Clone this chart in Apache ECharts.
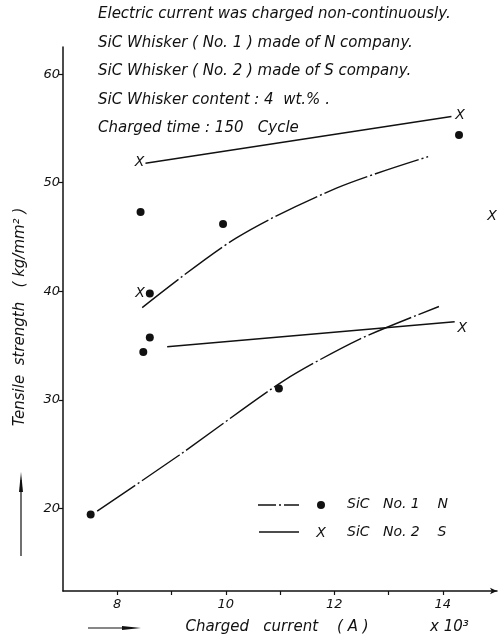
<!DOCTYPE html>
<html><head><meta charset="utf-8">
<script src="https://cdn.jsdelivr.net/npm/echarts@6/dist/echarts.min.js"></script>
<style>html,body{margin:0;padding:0;background:#fff}#c{width:498px;height:636px}</style>
</head><body><div id="c"></div>
<script>
// ---- data ----
const xTickLabels = [8, 10, 12, 14];
const xTickMarks = [8, 9, 10, 11, 12, 13, 14];
const yTickLabels = [20, 30, 40, 50, 60];

// SiC No.1 (N) measured points (dots)
const no1Points = [[7.51, 19.45], [8.43, 47.3], [8.60, 39.8], [8.60, 35.75], [8.48, 34.4], [9.95, 46.2], [10.98, 31.05], [14.30, 54.4]];
// SiC No.2 (S) measured points (X)
const no2Points = [[8.41, 51.9], [8.42, 39.85], [14.32, 56.2], [14.36, 36.6], [14.91, 46.9]];

// fitted curves (dash-dot) for No.1
const no1CurveUpper = [[8.46, 38.5], [10.19, 44.9], [12.04, 49.5], [13.73, 52.4]];
const no1CurveLower = [[7.63, 19.75], [9.14, 24.9], [11.08, 31.8], [12.47, 35.6], [13.93, 38.6]];
// fitted lines (solid) for No.2
const no2LineUpper = [[8.52, 51.8], [14.16, 56.1]];
const no2LineLower = [[8.92, 34.9], [14.22, 37.2]];

const notes = [
  'Electric current was charged non-continuously.',
  'SiC Whisker ( No. 1 ) made of N company.',
  'SiC Whisker ( No. 2 ) made of S company.',
  'SiC Whisker content : 4  wt.% .',
  'Charged time : 150   Cycle'
];
const legendNames = ['SiC   No. 1    N', 'SiC   No. 2    S'];
const xAxisName = 'Charged   current    ( A )';
const xAxisUnit = 'x 10³';
const yAxisName = 'Tensile  strength   ( kg/mm² )';

// ---- chart ----
const FONT = 'DejaVu Sans';
const INK = '#111';
const dashDot = [46, 3, 2, 3];
const chart = echarts.init(document.getElementById('c'));

const noteGraphics = notes.map((t, i) => ({
  type: 'text', left: 98, top: 7 + i * 28.5,
  style: { text: t, font: 'italic 15px "' + FONT + '"', fill: INK }
}));

const option = {
  animation: false,
  backgroundColor: '#fff',
  grid: { left: 63, right: 1, top: 47, bottom: 45 },
  xAxis: {
    type: 'value', min: 7, max: 15,
    axisLine: { lineStyle: { color: INK, width: 1.5 }, symbol: ['none', 'arrow'], symbolSize: [5, 7] },
    axisTick: { show: true, length: 4, customValues: xTickMarks, lineStyle: { color: INK, width: 1.2 } },
    axisLabel: { customValues: xTickLabels, fontStyle: 'italic', fontFamily: FONT, fontSize: 13, color: INK, margin: 7 },
    splitLine: { show: false }
  },
  yAxis: {
    type: 'value', min: 12.4, max: 62.5,
    axisLine: { show: true, lineStyle: { color: INK, width: 1.5 } },
    axisTick: { show: true, length: 4, customValues: yTickLabels, lineStyle: { color: INK, width: 1.2 } },
    axisLabel: { customValues: yTickLabels, fontStyle: 'italic', fontFamily: FONT, fontSize: 13, color: INK, margin: 3 },
    splitLine: { show: false }
  },
  graphic: noteGraphics.concat([
    // legend
    { type: 'line', shape: { x1: 258, y1: 505, x2: 299, y2: 505 }, style: { stroke: INK, lineWidth: 1.3, lineDash: [18, 3, 2, 3] } },
    { type: 'circle', shape: { cx: 321, cy: 505, r: 4 }, style: { fill: INK } },
    { type: 'text', left: 347, top: 497, style: { text: legendNames[0], font: 'italic 14px "' + FONT + '"', fill: INK } },
    { type: 'line', shape: { x1: 259, y1: 532, x2: 299, y2: 532 }, style: { stroke: INK, lineWidth: 1.3 } },
    { type: 'text', x: 321, y: 533, style: { text: 'X', font: 'italic 14px "' + FONT + '"', fill: INK, align: 'center', verticalAlign: 'middle' } },
    { type: 'text', left: 347, top: 525, style: { text: legendNames[1], font: 'italic 14px "' + FONT + '"', fill: INK } },
    // x axis name with arrow
    { type: 'line', shape: { x1: 88, y1: 628, x2: 128, y2: 628 }, style: { stroke: INK, lineWidth: 1.2 } },
    { type: 'polygon', shape: { points: [[122, 626], [141, 628], [122, 630]] }, style: { fill: INK } },
    { type: 'text', x: 277, y: 627, style: { text: xAxisName, font: 'italic 15px "' + FONT + '"', fill: INK, align: 'center', verticalAlign: 'middle' } },
    { type: 'text', x: 430, y: 627, style: { text: xAxisUnit, font: 'italic 15px "' + FONT + '"', fill: INK, align: 'left', verticalAlign: 'middle' } },
    // y axis name with arrow
    { type: 'text', x: 20, y: 317, rotation: Math.PI / 2, style: { text: yAxisName, font: 'italic 15px "' + FONT + '"', fill: INK, align: 'center', verticalAlign: 'middle' } },
    { type: 'line', shape: { x1: 21, y1: 556, x2: 21, y2: 480 }, style: { stroke: INK, lineWidth: 1.2 } },
    { type: 'polygon', shape: { points: [[19, 492], [21, 472], [23, 492]] }, style: { fill: INK } }
  ]),
  series: [
    { name: 'No1 upper fit', type: 'line', data: no1CurveUpper, smooth: 0.3, symbol: 'none',
      lineStyle: { color: INK, width: 1.4, type: dashDot }, silent: true, z: 2 },
    { name: 'No1 lower fit', type: 'line', data: no1CurveLower, smooth: 0.25, symbol: 'none',
      lineStyle: { color: INK, width: 1.4, type: dashDot }, silent: true, z: 2 },
    { name: 'No2 upper fit', type: 'line', data: no2LineUpper, symbol: 'none',
      lineStyle: { color: INK, width: 1.4 }, silent: true, z: 2 },
    { name: 'No2 lower fit', type: 'line', data: no2LineLower, symbol: 'none',
      lineStyle: { color: INK, width: 1.4 }, silent: true, z: 2 },
    { name: 'SiC No.1 N', type: 'scatter', data: no1Points, symbol: 'circle', symbolSize: 8,
      itemStyle: { color: INK, opacity: 1 }, z: 3 },
    { name: 'SiC No.2 S', type: 'scatter', data: no2Points, symbol: 'circle', symbolSize: 2,
      itemStyle: { color: 'rgba(0,0,0,0)', opacity: 1 }, z: 3,
      label: { show: true, position: 'inside', formatter: 'X', fontStyle: 'italic', fontFamily: FONT, fontSize: 14, color: INK } }
  ]
};
chart.setOption(option);
</script>
</body></html>
